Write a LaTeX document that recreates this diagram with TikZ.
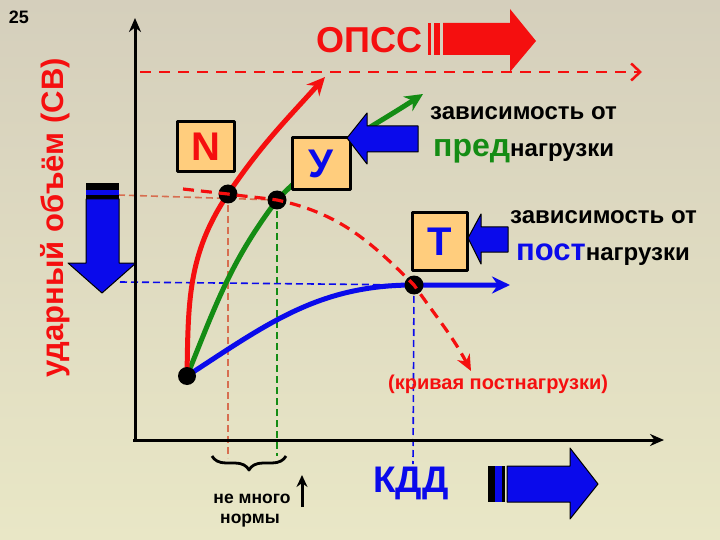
\documentclass[tikz,border=0pt]{standalone}
\usepackage{fontspec}
\setmainfont{Liberation Sans}
\usetikzlibrary{arrows.meta,decorations.pathreplacing,calc}
\definecolor{bgtop}{RGB}{213,207,188}
\definecolor{bgbot}{RGB}{233,231,198}
\definecolor{myred}{RGB}{245,15,15}
\definecolor{mygreen}{RGB}{20,140,20}
\definecolor{myblue}{RGB}{10,10,235}
\definecolor{boxfill}{RGB}{255,205,125}
\definecolor{salmon}{RGB}{215,110,80}
\tikzset{
  box/.style={draw=black, line width=3, fill=boxfill, inner sep=0, font=\fontsize{40}{40}\selectfont\bfseries},
  dot/.style={circle, fill=black, inner sep=0, minimum size=19},
  guide/.style={line width=1.6, dash pattern=on 7 off 4},
  curve/.style={line width=5, -{Stealth[length=18,width=17]}},
  blockarrow/.style={fill=myblue, draw=black, line width=1},
  txt/.style={font=\fontsize{24}{24}\selectfont\bfseries, anchor=base west, inner sep=0}
}
\begin{document}
\begin{tikzpicture}[x=1pt,y=-1pt,line join=round]
\fill[top color=bgtop,bottom color=bgbot] (0,0) rectangle (720,540);
\useasboundingbox (0,0) rectangle (720,540);

% coordinates
\coordinate (pO) at (187,376);
\coordinate (pN) at (228,194);
\coordinate (pY) at (277,200);
\coordinate (pT) at (414,285);
\coordinate (vN) at (228,458);
\coordinate (vY) at (277,456);
\coordinate (vT) at (413,464);
\coordinate (hL) at (118,195);
\coordinate (hB) at (120,282);

% guides
\draw[guide, salmon] (hL) -- (pY);
\draw[guide, salmon] (pN) -- (vN);
\draw[guide, mygreen] (pY) -- (vY);
\draw[guide, myblue] (hB) -- (pT);
\draw[guide, myblue] (pT) -- (vT);

% axes
\coordinate (ax0) at (135,442);
\coordinate (axY) at (135,18);
\coordinate (ax1) at (133,440);
\coordinate (axX) at (664,440);
\draw[line width=3, -{Stealth[length=14,width=12]}] (ax0) -- (axY);
\draw[line width=3, -{Stealth[length=14,width=12]}] (ax1) -- (axX);

% top dashed line
\coordinate (t0) at (140,72);
\coordinate (t1) at (642,72);
\draw[myred, line width=2.5, dash pattern=on 11 off 8, -{Straight Barb[length=9,width=17,line width=2.5]}] (t0) -- (t1);

% curves
\coordinate (endR) at (325,77);
\coordinate (endG) at (423,94);
\coordinate (endB) at (510,285);
\draw[curve, mygreen] (pO) to[out=68,in=233] (pY) to[out=46,in=213] (endG);
\draw[curve, myred] (pO) to[out=89,in=236] (pN) to[out=56,in=228] (endR);
\draw[curve, myblue] (pO) to[out=33,in=180] (pT) -- (endB);

% dots
\node[dot, minimum size=18] (dO) at (pO) {};
\node[dot] (dN) at (pN) {};
\node[dot] (dY) at (pY) {};
\node[dot] (dT) at (pT) {};

% afterload dashed curve
\coordinate (dS) at (183,189);
\coordinate (dE) at (471,371);
\draw[myred, line width=3.2, dash pattern=on 11 off 7, -{Stealth[length=16,width=14]}]
  (dS) -- (dN.center) to[out=-8,in=172] (dY.center) to[out=-12,in=135] (dT.center) to[out=-55,in=118] (dE);

% boxes
\node[box, minimum width=57, minimum height=50, text=myred] (N) at (205.5,147) {N};
\node[box, minimum width=58, minimum height=52, text=myblue] (Y) at (321,164) {У};
\node[box, minimum width=55, minimum height=57, text=myblue] (T) at (439.5,241.5) {Т};

% block arrows
\draw[blockarrow] (347,138) -- (367,113) -- (367,126) -- (418,126) -- (418,152) -- (367,152) -- (367,164) -- cycle;
\draw[blockarrow] (468,238) -- (481,214) -- (481,227) -- (508,227) -- (508,252) -- (481,252) -- (481,264) -- cycle;
% down arrow
\fill[black] (86,183) rectangle (119,190);
\fill[myblue] (86,190) rectangle (119,195);
\fill[black] (86,195) rectangle (119,199);
\draw[blockarrow] (86,199) -- (119,199) -- (119,263) -- (136,263) -- (102,293) -- (68,263) -- (86,263) -- cycle;
% KDD arrow
\fill[black] (488,466) rectangle (495,502);
\fill[myblue] (495,466) rectangle (502,502);
\fill[black] (502,466) rectangle (505,502);
\draw[blockarrow] (507,466) -- (570,466) -- (570,448) -- (598,484) -- (570,519) -- (570,502) -- (507,502) -- cycle;
% OPSS arrow
\fill[myred] (428,23) rectangle (431,55);
\fill[myred] (434,23) rectangle (440,55);
\fill[myred] (443,23) -- (510,23) -- (510,9) -- (536,41) -- (510,72) -- (510,55) -- (443,55) -- cycle;

% texts
\node[font=\fontsize{18}{18}\selectfont\bfseries] (n25) at (19,17) {25};
\node[rotate=90, text=myred, font=\fontsize{31}{31}\selectfont\bfseries] (ylab) at (55,218) {ударный объём (СВ)};
\node[txt, text=myred, font=\fontsize{36}{36}\selectfont\bfseries] (opss) at (316,53) {ОПСС};
\node[txt] (z1) at (430,120) {зависимость от};
\node[txt] (p1) at (433,157) {{\color{mygreen}\fontsize{32}{32}\selectfont пред}нагрузки};
\node[txt] (z2) at (510,223) {зависимость от};
\node[txt] (p2) at (516,260) {{\color{myblue}\fontsize{31}{31}\selectfont пост}нагрузки};
\node[txt, text=myred, font=\fontsize{20}{20}\selectfont\bfseries] (kp) at (388,389) {(кривая постнагрузки)};
\node[txt, text=myblue, font=\fontsize{37}{37}\selectfont\bfseries] (kdd) at (373,492) {КДД};
\node[font=\fontsize{17.5}{17.5}\selectfont\bfseries, anchor=base, inner sep=0] (nm1) at (252,503) {не много};
\node[font=\fontsize{17.5}{17.5}\selectfont\bfseries, anchor=base, inner sep=0] (nm2) at (250,523) {нормы};

% brace and small arrow
\coordinate (b0) at (286,456);
\coordinate (b1) at (212,456);
\draw[decorate, decoration={brace, amplitude=14, aspect=0.5}, line width=2.8] (b0) -- (b1);
\coordinate (u0) at (302,507);
\coordinate (u1) at (302,475);
\draw[line width=3, -{Stealth[length=12,width=11]}] (u0) -- (u1);
\end{tikzpicture}
\end{document}
